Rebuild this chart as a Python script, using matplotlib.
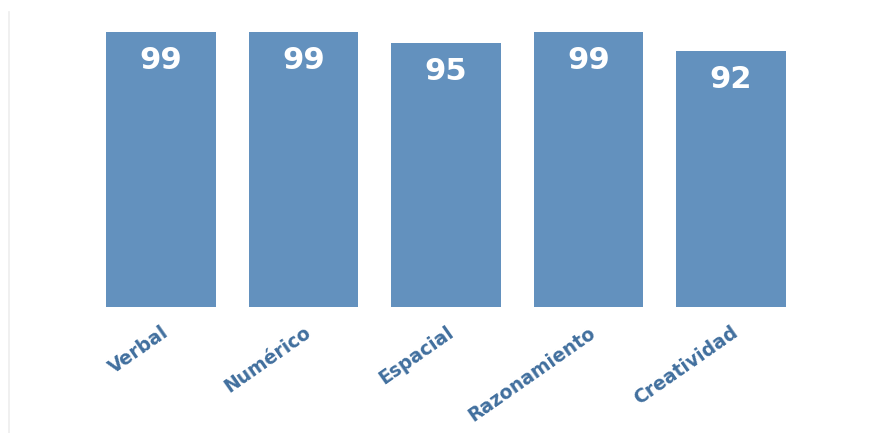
import matplotlib.pyplot as plt
from matplotlib.lines import Line2D
import matplotlib.transforms as mtransforms

# Puntuaciones por área
categorias = ['Verbal', 'Numérico', 'Espacial', 'Razonamiento', 'Creatividad']
valores = [99, 99, 95, 99, 92]

color_barra = '#6391be'
color_texto = '#416f9e'

fig = plt.figure(figsize=(8.84, 4.33), dpi=100)
ax = fig.add_axes([30 / 884, 126 / 433, 830 / 884, 292 / 433])

x = list(range(len(categorias)))
barras = ax.bar(x, valores, width=0.77, color=color_barra)

# Valor dentro de cada barra, arriba
for xi, v in zip(x, valores):
    ax.annotate(f'{v}', xy=(xi, v), xytext=(0, -10), textcoords='offset points',
                ha='center', va='top', color='white', fontsize=22,
                fontweight='bold')

ax.set_xlim(-0.919, 4.905)
ax.set_ylim(0, 105)
ax.set_yticks([])
ax.set_xticks([])
for s in ax.spines.values():
    s.set_visible(False)

# Etiquetas inclinadas bajo cada barra
desplaza = mtransforms.offset_copy(ax.transData, fig=fig, x=0, y=-16, units='dots')
for xi, nombre in zip(x, categorias):
    ax.text(xi, 0, nombre, transform=desplaza, rotation=35,
            rotation_mode='anchor', ha='right', va='top',
            color=color_texto, fontsize=13.5, fontweight='bold')

# Línea gris tenue en el borde izquierdo
fig.add_artist(Line2D([9 / 884, 9 / 884], [0, 421 / 433],
                      transform=fig.transFigure, color='#ededed', lw=1.2))

fig.savefig('out.png', dpi=100)
